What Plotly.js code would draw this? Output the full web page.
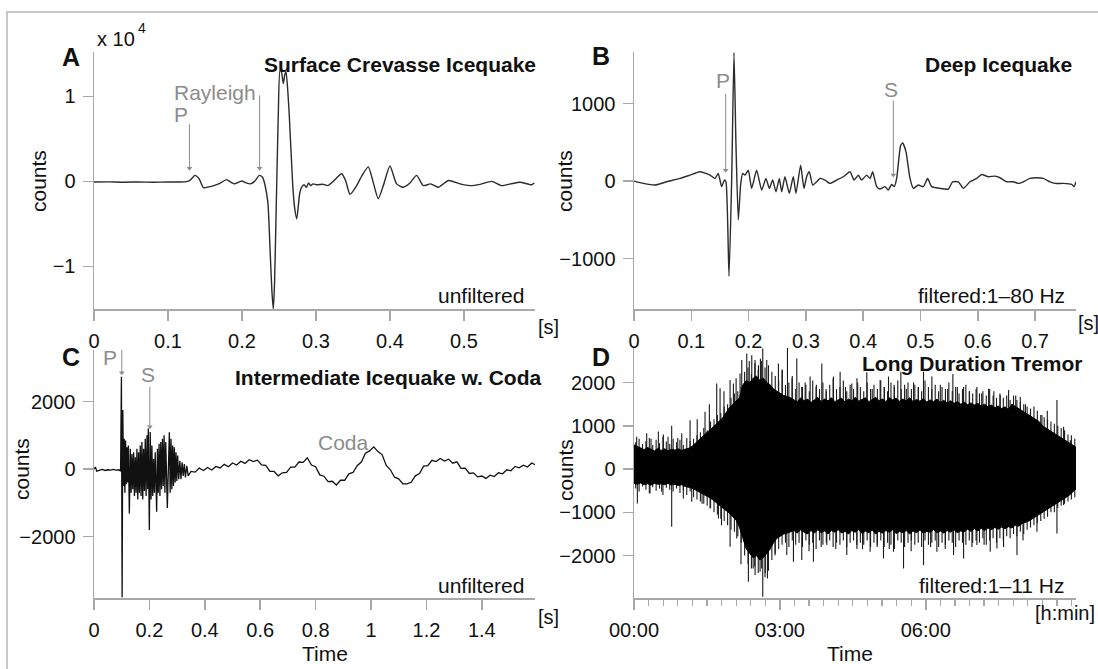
<!DOCTYPE html>
<html>
<head>
<meta charset="utf-8">
<script src="https://cdn.plot.ly/plotly-3.0.1.min.js"></script>
<style>html,body{margin:0;padding:0;background:#fff;}#chart{width:1098px;height:669px;}</style>
</head>
<body>
<div id="chart"></div>
<script>
// ---------- Panel A: Surface Crevasse Icequake (time s, counts) ----------
const tA = [0, 0.02, 0.04, 0.06, 0.08, 0.10, 0.115, 0.125, 0.13, 0.1365,
  0.142, 0.148, 0.155, 0.162, 0.17, 0.179, 0.185, 0.19, 0.1995, 0.205,
  0.211, 0.217, 0.2235, 0.228, 0.231, 0.235, 0.238, 0.2405, 0.2423, 0.244,
  0.246, 0.249, 0.2514, 0.2535, 0.2558, 0.2578, 0.2595, 0.262, 0.264, 0.2685,
  0.271, 0.274, 0.278, 0.2805, 0.284, 0.287, 0.29, 0.293, 0.296, 0.301,
  0.31, 0.316, 0.3234, 0.3347, 0.34, 0.346, 0.355, 0.3617, 0.3707, 0.377,
  0.3842, 0.391, 0.40, 0.409, 0.418, 0.427, 0.436, 0.445, 0.455, 0.4653,
  0.479, 0.4946, 0.508, 0.522, 0.5374, 0.551, 0.563, 0.5757, 0.5915, 0.595];
const vA = [-80, -60, -100, -70, -100, -80, -70, -40, 150, 700,
  300, -740, -650, -500, -250, 200, -100, -300, 50, -150,
  -300, 0, 700, 450, -400, -2500, -8100, -13000, -15000, -12000,
  -4200, 7600, 13100, 12800, 11500, 12500, 12900, 10500, 7600, -300,
  -3000, -4400, -1400, -700, -400, -700, -200, -500, -300, -400,
  -350, -500, 0, 900, 100, -1530, -500, 600, 1700, 0,
  -2040, -500, 1800, -300, -700, -200, 700, -500, -300, -700,
  100, -300, -500, -350, 0, -500, -300, -100, -400, -200];

// ---------- Panel B: Deep Icequake ----------
const tB = [0, 0.0163, 0.0366, 0.057, 0.0803, 0.0977, 0.115, 0.1326, 0.1414, 0.147,
  0.153, 0.1577, 0.1605, 0.1658, 0.1705, 0.1745, 0.178, 0.182, 0.1861, 0.1896,
  0.1937, 0.1995, 0.2053, 0.214, 0.2228, 0.2303, 0.2362, 0.242, 0.2478, 0.2536,
  0.2577, 0.2635, 0.271, 0.278, 0.2827, 0.2908, 0.2967, 0.3013, 0.306, 0.3118,
  0.3188, 0.3246, 0.3333, 0.342, 0.3537, 0.3653, 0.377, 0.384, 0.3915, 0.3973,
  0.406, 0.412, 0.4165, 0.4235, 0.4293, 0.438, 0.4438, 0.4497, 0.4543, 0.4584,
  0.4654, 0.469, 0.4747, 0.4817, 0.4875, 0.4962, 0.505, 0.5125, 0.5195, 0.534,
  0.5486, 0.556, 0.566, 0.5748, 0.5864, 0.598, 0.6067, 0.6184, 0.63, 0.6387,
  0.6504, 0.662, 0.6707, 0.6795, 0.691, 0.7027, 0.7143, 0.726, 0.7347, 0.749,
  0.7638, 0.768, 0.7714];
const vB = [0, -30, -51, -9, 34, 77, 120, 77, 34, 98,
  -72, 13, -9, -1227, 34, 1658, 461, -500, -51, 98,
  77, 141, -94, 141, -115, 34, -94, 13, -137, 34,
  -137, 56, -158, 56, -158, 205, -94, 56, 120, -51,
  -9, 34, 13, -30, 13, 56, 120, 13, 77, 13,
  77, 34, 120, -72, -103, -72, -115, -43, -72, 34,
  461, 491, 376, 34, -94, -51, -72, 34, -72, -94,
  -103, -9, -9, -94, -9, 34, 85, 56, 64, 43,
  -9, -9, -30, -9, 34, 43, 34, -9, -30, -30,
  -43, -72, -9];

// ---------- Panel C: Intermediate Icequake w. Coda ----------
const tC = [0, 0.005, 0.01, 0.02, 0.03, 0.04, 0.05, 0.06, 0.07, 0.08, 0.09, 0.096,
  0.099, 0.1015, 0.104, 0.1065, 0.109, 0.1115, 0.114, 0.1165, 0.119, 0.1215,
  0.124, 0.1276, 0.131, 0.134, 0.137, 0.140, 0.143, 0.146, 0.149, 0.152,
  0.155, 0.158, 0.161, 0.164, 0.167, 0.170, 0.173, 0.176, 0.179, 0.182,
  0.185, 0.188, 0.1915, 0.194, 0.196, 0.1997, 0.203, 0.206, 0.209, 0.212,
  0.215, 0.218, 0.221, 0.2262, 0.229, 0.232, 0.235, 0.238, 0.241, 0.244,
  0.247, 0.250, 0.253, 0.256, 0.259, 0.2647, 0.268, 0.272, 0.275, 0.278,
  0.281, 0.284, 0.287, 0.290, 0.293, 0.296, 0.299, 0.302, 0.306, 0.31,
  0.314, 0.318, 0.322, 0.326, 0.33, 0.335, 0.34,
  0.350, 0.365, 0.380, 0.395, 0.410, 0.425, 0.440, 0.455, 0.470, 0.485,
  0.500, 0.515, 0.530, 0.545, 0.560, 0.575, 0.590, 0.605, 0.620, 0.635,
  0.650, 0.665, 0.680, 0.695, 0.710, 0.725, 0.740, 0.755, 0.770, 0.785,
  0.800, 0.815, 0.830, 0.845, 0.860, 0.875, 0.890, 0.905, 0.920, 0.935,
  0.950, 0.965, 0.980, 0.995, 1.010, 1.025, 1.040, 1.055, 1.070, 1.085,
  1.100, 1.115, 1.130, 1.145, 1.160, 1.175, 1.190, 1.205, 1.220, 1.235,
  1.250, 1.265, 1.280, 1.295, 1.310, 1.325, 1.340, 1.355, 1.370, 1.385,
  1.400, 1.415, 1.430, 1.445, 1.460, 1.475, 1.490, 1.505, 1.520, 1.535,
  1.550, 1.565, 1.580, 1.592];
const vC = [0, 60, -60, -30, -10, -40, -20, -30, -10, -30, -20, -60,
  2735, -3800, 1750, -500, 900, -700, 850, -450, 650, -400,
  700, -1313, 600, -700, 450, -600, 500, -800, 350, -700,
  600, -900, 500, -700, 700, -800, 800, -900, 600, -650,
  900, -800, 1000, -600, 1200, -1807, 1100, -900, 700, -800,
  300, -700, 500, -1264, 600, -700, 750, -800, 800, -600,
  900, -500, 1000, -700, 800, -1150, -400, 1090, -700, 900,
  -600, 700, -500, 650, -400, 500, -350, 400, -300, 250,
  -300, 200, -200, 150, -250, 100, -200,
  -70, -90, 30, -40, 50, -25, 80, 35, 140, 70,
  180, 120, 235, 170, 280, 225, 265, 125, 110, -65,
  -70, -200, -110, -100, 60, 60, 210, 200, 335, 120,
  70, -170, -210, -370, -360, -470, -330, -330, -140, -100,
  100, 210, 470, 540, 660, 520, 430, 110, -20, -240,
  -290, -440, -440, -390, -200, -130, 90, 100, 260, 222,
  315, 240, 295, 175, 215, 20, 30, -130, -110, -230,
  -205, -275, -180, -220, -110, -140, -20, -50, 80, 40,
  115, 60, 180, 130];

// ---------- Panel D: Long Duration Tremor ----------
// dense core envelope, sampled every 0.07 h
const dStart = 0, dStep = 0.07;
const dUpper = [560,520,480,450,500,450,420,480,430,470,
  420,460,440,470,430,460,480,520,600,680,
  760,820,880,950,1020,1100,1180,1300,1420,1500,
  1580,1650,1950,2050,2000,2100,2150,2050,2100,2000,
  1950,1850,1800,1750,1700,1680,1650,1600,1560,1650,
  1580,1620,1540,1600,1660,1560,1620,1580,1650,1560,
  1600,1640,1550,1620,1580,1660,1570,1620,1650,1560,
  1610,1660,1580,1620,1560,1650,1600,1640,1570,1620,
  1580,1650,1560,1610,1570,1630,1550,1600,1560,1620,
  1540,1590,1530,1580,1520,1560,1500,1550,1490,1530,
  1480,1520,1460,1500,1440,1480,1420,1460,1400,1440,
  1380,1500,1450,1400,1350,1300,1250,1200,1150,1100,
  1000,950,900,850,800,750,700,650,600,550,
  500];
const dLower = [-330,-350,-320,-360,-340,-370,-330,-350,-340,-360,
  -330,-370,-350,-380,-360,-400,-420,-440,-480,-520,
  -560,-600,-650,-700,-760,-820,-880,-950,-1020,-1100,
  -1180,-1350,-1600,-1850,-1950,-2050,-2000,-2100,-2050,-1950,
  -1850,-1700,-1600,-1550,-1500,-1480,-1450,-1420,-1480,-1400,
  -1460,-1500,-1420,-1480,-1400,-1470,-1430,-1500,-1420,-1460,
  -1400,-1480,-1440,-1500,-1420,-1460,-1400,-1490,-1430,-1470,
  -1410,-1500,-1440,-1480,-1420,-1460,-1400,-1490,-1440,-1470,
  -1420,-1500,-1430,-1470,-1410,-1480,-1440,-1460,-1400,-1470,
  -1430,-1480,-1420,-1460,-1400,-1470,-1430,-1450,-1390,-1440,
  -1380,-1430,-1370,-1420,-1360,-1400,-1350,-1390,-1340,-1380,
  -1330,-1360,-1300,-1320,-1260,-1230,-1200,-1150,-1100,-1050,
  -1000,-950,-900,-850,-800,-750,-700,-650,-600,-520,
  -450];
// oscillation peaks between envelope samples (offset by half a step)
const dPeakStart = 0.035;
const dPeakUp = [620,700,580,650,720,560,680,600,750,640,
  580,700,620,680,560,720,650,700,780,850,
  950,900,1100,1150,1250,1300,1450,1500,1650,1750,
  1800,1900,2250,2350,2200,2450,2300,2500,2350,2400,
  2250,2150,2050,2300,1950,2000,2150,1850,2000,1900,
  1950,1800,2050,1900,1850,2000,1800,1950,2100,1850,
  1900,2050,1800,1950,1850,2100,1900,1800,2000,1850,
  1950,1850,2050,1900,1800,2000,1900,2050,1850,1950,
  2000,1850,1950,1900,1800,2050,1900,1850,1950,1800,
  1900,1850,2000,1800,1900,1750,1850,1950,1800,1750,
  1850,1750,1800,1700,1850,1700,1650,1750,1650,1700,
  1600,1700,1600,1550,1500,1450,1400,1450,1350,1250,
  1200,1150,1100,1050,1000,950,900,800,780,700,
  600];
const dPeakDown = [-450,-520,-400,-480,-560,-420,-500,-450,-600,-430,
  -480,-520,-450,-550,-500,-600,-520,-650,-700,-750,
  -800,-850,-900,-1000,-1050,-1150,-1200,-1300,-1400,-1450,
  -1550,-1700,-2000,-2200,-2300,-2250,-2400,-2300,-2500,-2350,
  -2100,-1950,-1850,-1750,-1700,-1800,-1650,-1750,-1700,-1800,
  -1650,-1750,-1700,-1850,-1650,-1750,-1700,-1650,-1800,-1700,
  -1750,-1650,-1800,-1700,-1650,-1850,-1700,-1750,-1650,-1800,
  -1700,-1750,-1650,-1800,-1700,-1750,-1850,-1650,-1700,-1800,
  -1700,-1650,-1750,-1700,-1800,-1650,-1750,-1700,-1650,-1800,
  -1700,-1750,-1650,-1700,-1800,-1650,-1700,-1750,-1650,-1700,
  -1650,-1700,-1600,-1750,-1650,-1600,-1700,-1600,-1650,-1550,
  -1600,-1500,-1550,-1450,-1500,-1400,-1350,-1300,-1250,-1200,
  -1150,-1100,-1000,-1000,-900,-850,-800,-750,-700,-650,
  -550];
// individual tall spikes (time h, counts)
const dSpikeT = [0.055, 0.261, 0.35, 0.501, 0.604, 0.7, 0.775, 0.9, 0.982, 1.153,
  1.3, 1.461, 1.55, 1.701, 1.770, 1.85, 1.976, 2.044, 2.1, 2.181,
  2.216, 2.319, 2.37, 2.422, 2.490, 2.559, 2.6, 2.648, 2.730, 2.970,
  3.05, 3.156, 3.25, 3.348, 3.45, 3.52, 3.622, 3.75, 3.862, 3.95,
  4.102, 4.239, 4.35, 4.479, 4.6, 4.788, 4.9, 5.062, 5.15, 5.234,
  5.35, 5.488, 5.6, 5.75, 5.85, 5.954, 6.126, 6.3, 6.45, 6.558,
  6.65, 6.778, 6.9, 7.052, 7.15, 7.292, 7.4, 7.532, 7.704, 7.85,
  7.944, 8.05, 8.150, 8.390, 8.5, 8.698, 8.835, 8.973,
  0.069, 0.329, 0.569, 0.775, 1.015, 1.187, 1.4, 1.564, 1.736, 1.8,
  1.976, 2.113, 2.2, 2.353, 2.45, 2.490, 2.593, 2.648, 2.7, 2.744,
  2.9, 3.142, 3.279, 3.45, 3.6, 3.69, 3.85, 3.965, 4.15, 4.376,
  4.582, 4.7, 4.856, 5.0, 5.131, 5.25, 5.337, 5.543, 5.7, 5.954,
  6.1, 6.229, 6.4, 6.572, 6.778, 6.95, 7.052, 7.2, 7.326, 7.464,
  7.6, 7.876, 8.0, 8.287, 8.493, 8.698, 8.835];
const dSpikeV = [750, 830, 700, 870, 800, 750, 1000, 720, 830, 1130,
  1150, 1325, 1500, 1980, 1870, 1800, 2058, 1980, 2100, 2212,
  2520, 2675, 2500, 2630, 2520, 2400, 2550, 2790, 2520, 2440,
  2300, 2828, 2100, 2560, 1900, 2000, 2140, 1950, 2440, 1850,
  2140, 2250, 1900, 1980, 2000, 2240, 1850, 2060, 1900, 2140,
  1950, 2250, 1850, 2000, 1900, 2250, 2140, 1950, 1850, 2200,
  1900, 1900, 1800, 1900, 1750, 1860, 1800, 1710, 1830, 1700,
  1670, 1500, 1290, 1250, 1350, 1600, 982, 670,
  -794, -563, -524, -1333, -678, -755, -800, -910, -1141, -1300,
  -1796, -1603, -2200, -2605, -2300, -2451, -2374, -2952, -2400, -2528,
  -2000, -1988, -2143, -2104, -1900, -2143, -1800, -1757, -1850, -1988,
  -1757, -1850, -1911, -1800, -2065, -1850, -1911, -2297, -1900, -2220,
  -1800, -1911, -1850, -1988, -2065, -1800, -1757, -1750, -1911, -1834,
  -1800, -1988, -1650, -1449, -909, -1487, -832];

// ---------- tick labels ----------
const yTickValsA = [-10000, 0, 10000];
const yTickTextA = ['\u22121', '0', '1'];
const xTickValsD = [0, 3, 6];
const xTickTextD = ['00:00', '03:00', '06:00'];

// ---------- phase-arrival arrows: [axis suffix, time, tail value, tip value] ----------
const phaseArrows = [
  ['', 0.129, 6700, 1530], ['', 0.2238, 10100, 1530],
  ['2', 0.160, 1128, 141], ['2', 0.4526, 1038, 77],
  ['3', 0.1003, 3526, 2853], ['3', 0.2015, 2438, 1253]
];

// ---------- layout helpers ----------
const W = 1098, H = 669;
const FONT = 'Liberation Sans, Arial, Helvetica, sans-serif';
const GRAY = '#8c8c8c';
const AXC = '#a8a8a8';
const X = p => p / W;
const Y = p => 1 - p / H;

// vertical strokes for peaks and spikes of panel D (segments from zero to value)
const strokeX = [], strokeY = [];
dPeakUp.forEach((v, k) => {
  const t = dPeakStart + k * dStep;
  strokeX.push(t, t, null, t, t, null);
  strokeY.push(0, v, null, 0, dPeakDown[k], null);
});
dSpikeT.forEach((t, i) => { strokeX.push(t, t, null); strokeY.push(0, dSpikeV[i], null); });

const traces = [
  {x: tA, y: vA, xaxis: 'x', yaxis: 'y', type: 'scatter', mode: 'lines',
   line: {color: '#2b2b2b', width: 1.4, shape: 'spline', smoothing: 0.6}},
  {x: tB, y: vB, xaxis: 'x2', yaxis: 'y2', type: 'scatter', mode: 'lines',
   line: {color: '#2b2b2b', width: 1.4, shape: 'spline', smoothing: 0.5}},
  {x: tC, y: vC, xaxis: 'x3', yaxis: 'y3', type: 'scatter', mode: 'lines',
   line: {color: '#111', width: 1.3}},
  {x: strokeX, y: strokeY, xaxis: 'x4', yaxis: 'y4', type: 'scatter', mode: 'lines',
   connectgaps: false, line: {color: '#1a1a1a', width: 1.1}},
  {x0: dStart, dx: dStep, y: dUpper, xaxis: 'x4', yaxis: 'y4', type: 'scatter', mode: 'lines',
   line: {color: '#000', width: 1}},
  {x0: dStart, dx: dStep, y: dLower, xaxis: 'x4', yaxis: 'y4', type: 'scatter', mode: 'lines',
   fill: 'tonexty', fillcolor: '#000', line: {color: '#000', width: 1}}
];

// arrows as thin gray lines with a small head at the tip
phaseArrows.forEach(a => {
  traces.push({x: [a[1], a[1]], y: [a[2], a[3]], xaxis: 'x' + a[0], yaxis: 'y' + a[0],
    type: 'scatter', mode: 'lines', line: {color: GRAY, width: 1}});
  traces.push({x: [a[1]], y: [a[3]], xaxis: 'x' + a[0], yaxis: 'y' + a[0],
    type: 'scatter', mode: 'markers',
    marker: {symbol: 'triangle-down', size: 5, color: GRAY, line: {width: 0}}});
});

function ax(extra) {
  return Object.assign({
    showline: true, linecolor: AXC, linewidth: 1.5,
    ticks: 'outside', ticklen: 10, tickwidth: 1.5, tickcolor: AXC,
    showgrid: false, zeroline: false, fixedrange: true,
    tickfont: {family: FONT, size: 20, color: '#111'},
    ticklabelstandoff: 3
  }, extra);
}

const dAB = [Y(309), Y(52)];
const layout = {
  width: W, height: H,
  margin: {l: 0, r: 0, t: 0, b: 0},
  paper_bgcolor: '#fff', plot_bgcolor: '#fff',
  showlegend: false, hovermode: false,
  font: {family: FONT, size: 20, color: '#111'},
  xaxis: ax({domain: [X(94), X(535)], anchor: 'y', range: [0, 0.596], dtick: 0.1, tick0: 0}),
  yaxis: ax({domain: dAB, anchor: 'x', range: [-15000, 15200], tickvals: yTickValsA, ticktext: yTickTextA}),
  xaxis2: ax({domain: [X(634), X(1076)], anchor: 'y2', range: [0, 0.7714], dtick: 0.1, tick0: 0}),
  yaxis2: ax({domain: dAB, anchor: 'x2', range: [-1650, 1665], dtick: 1000, tick0: 0}),
  xaxis3: ax({domain: [X(94), X(535)], anchor: 'y3', range: [0, 1.592], dtick: 0.2, tick0: 0}),
  yaxis3: ax({domain: [Y(598), Y(350)], anchor: 'x3', range: [-3820, 3530], dtick: 2000, tick0: 0}),
  xaxis4: ax({domain: [X(634), X(1076)], anchor: 'y4', range: [0, 9.09],
    tickvals: xTickValsD, ticktext: xTickTextD,
    minor: {dtick: 0.3, tick0: 0, ticks: 'outside', ticklen: 6, tickwidth: 1.2, tickcolor: AXC, showgrid: false}}),
  yaxis4: ax({domain: [Y(598), Y(348)], anchor: 'x4', range: [-2980, 2800], dtick: 1000, tick0: 0}),
  shapes: [
    {type: 'rect', xref: 'paper', yref: 'paper', x0: X(7), x1: 1.02, y0: -0.02, y1: Y(12),
     line: {color: '#c8c8c8', width: 2}, fillcolor: 'rgba(0,0,0,0)', layer: 'below'}
  ],
  annotations: []
};

function txt(text, x, y, o) {
  o = o || {};
  layout.annotations.push({
    text: text, xref: 'paper', yref: 'paper', x: X(x), y: Y(y),
    xanchor: o.xa || 'center', yanchor: 'middle', showarrow: false,
    textangle: o.angle || 0,
    font: {family: FONT, size: o.size || 20, color: o.color || '#111'}
  });
}

// panel letters
txt('<b>A</b>', 71, 57, {size: 25});
txt('<b>B</b>', 601, 56, {size: 25});
txt('<b>C</b>', 71, 357, {size: 25});
txt('<b>D</b>', 601, 357, {size: 25});
// panel titles
txt('<b>Surface Crevasse Icequake</b>', 538, 65, {xa: 'right', size: 21});
txt('<b>Deep Icequake</b>', 1074, 65, {xa: 'right', size: 21});
txt('<b>Intermediate Icequake w. Coda</b>', 543, 377, {xa: 'right', size: 21});
txt('<b>Long Duration Tremor</b>', 1085, 363, {xa: 'right', size: 21});
// filter notes
txt('unfiltered', 526, 295, {xa: 'right', size: 21});
txt('filtered:1\u201380 Hz', 1067, 295, {xa: 'right', size: 21});
txt('unfiltered', 526, 585, {xa: 'right', size: 21});
txt('filtered:1\u201311 Hz', 1067, 585, {xa: 'right', size: 21});
// units
txt('[s]', 536, 327, {xa: 'left', size: 20});
txt('[s]', 1076, 323, {xa: 'left', size: 20});
txt('[s]', 536, 617, {xa: 'left', size: 20});
txt('[h:min]', 1097, 613, {xa: 'right', size: 20});
txt('x 10', 95, 39, {xa: 'left', size: 20});
txt('4', 136, 28, {xa: 'left', size: 14});
// axis titles
txt('counts', 39, 181, {angle: -90, size: 21});
txt('counts', 565, 181, {angle: -90, size: 21});
txt('counts', 21, 469, {angle: -90, size: 21});
txt('counts', 566, 470, {angle: -90, size: 21});
txt('Time', 325, 653, {size: 21});
txt('Time', 850, 653, {size: 21});
// phase labels
txt('Rayleigh', 215, 92, {size: 21, color: GRAY});
txt('P', 181, 114, {size: 21, color: GRAY});
txt('P', 723, 80, {size: 21, color: GRAY});
txt('S', 891, 90, {size: 21, color: GRAY});
txt('P', 110, 357, {size: 21, color: GRAY});
txt('S', 148, 374, {size: 21, color: GRAY});
txt('Coda', 343, 442, {size: 21, color: GRAY});

Plotly.newPlot('chart', traces, layout, {staticPlot: true, displayModeBar: false});
</script>
</body>
</html>
